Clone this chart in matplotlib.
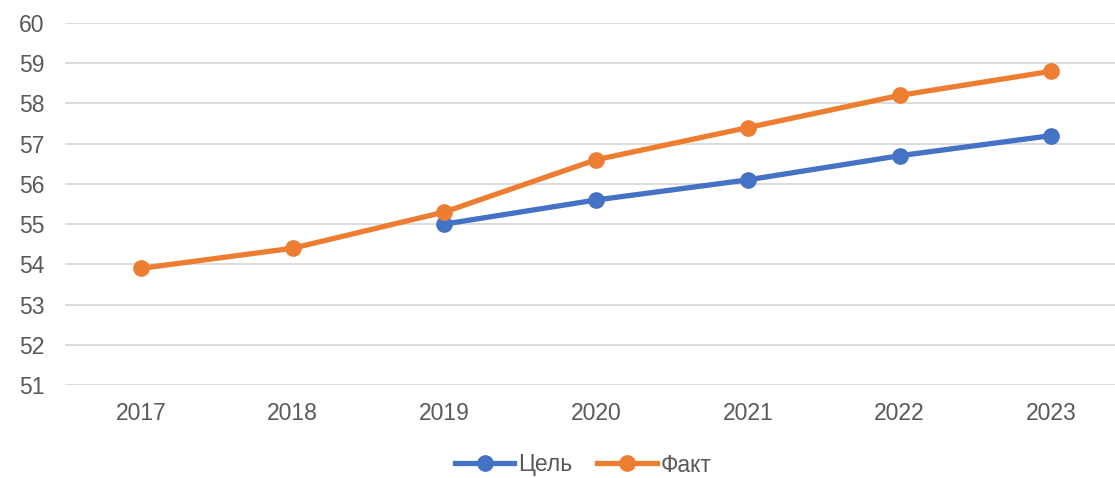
import matplotlib.pyplot as plt

plt.rcParams['font.family'] = ['Liberation Sans', 'DejaVu Sans']

years = ['2017', '2018', '2019', '2020', '2021', '2022', '2023']
target_years = [2, 3, 4, 5, 6]
target = [55.0, 55.6, 56.1, 56.7, 57.2]
fact_years = [0, 1, 2, 3, 4, 5, 6]
fact = [53.9, 54.4, 55.3, 56.6, 57.4, 58.2, 58.8]

text_color = '#595959'

fig = plt.figure(figsize=(11.15, 4.78), dpi=100)
ax = fig.add_axes([65 / 1115, 93 / 478, 1050 / 1115, 362 / 478])

ax.plot(target_years, target, color='#4472C4', marker='o', markersize=11,
        linewidth=3.8, label='Цель', zorder=3)
ax.plot(fact_years, fact, color='#ED7D31', marker='o', markersize=11,
        linewidth=3.8, label='Факт', zorder=3)

ax.set_xlim(-0.5, 6.42)
ax.set_ylim(51, 60)
ax.set_yticks(range(51, 61))
ax.set_xticks(range(len(years)))
ax.set_xticklabels(years)

ax.grid(axis='y', color='#D9D9D9', linewidth=1.3)
ax.set_axisbelow(True)
for s in ax.spines.values():
    s.set_visible(False)
ax.tick_params(axis='both', length=0, labelsize=16.5, labelcolor=text_color)
ax.tick_params(axis='y', pad=15)
ax.tick_params(axis='x', pad=12.5)

leg = fig.legend(loc='center', bbox_to_anchor=(583 / 1115, 1 - 465 / 478),
                 ncol=2, frameon=False, fontsize=16.5, handlelength=2.6,
                 handletextpad=0.15, columnspacing=1.1)
for t in leg.get_texts():
    t.set_color(text_color)

fig.savefig('out.png', dpi=100)
